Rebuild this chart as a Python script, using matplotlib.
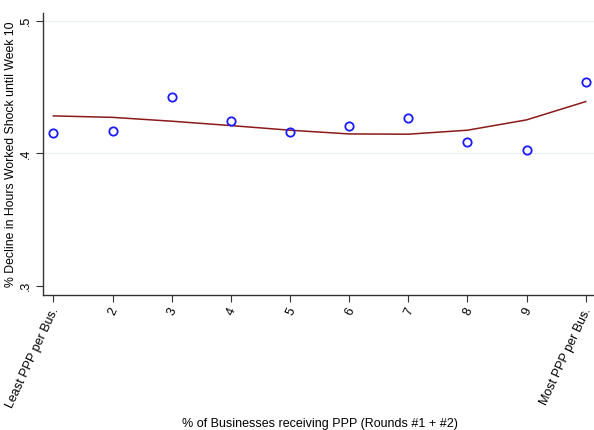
import matplotlib
matplotlib.use("Agg")
import matplotlib.pyplot as plt
import matplotlib.transforms as mtransforms

plt.rcParams['font.family'] = ['Liberation Sans', 'DejaVu Sans']

deciles = [1, 2, 3, 4, 5, 6, 7, 8, 9, 10]
decline = [0.4152, 0.4170, 0.4426, 0.4248, 0.4162, 0.4210, 0.4266, 0.4087, 0.4029, 0.4540]
fitted = [0.4283, 0.4272, 0.4243, 0.4210, 0.4175, 0.4147, 0.4145, 0.4175, 0.4253, 0.4391]
xtick_labels = ["Least PPP per Bus.", "2", "3", "4", "5", "6", "7", "8", "9", "Most PPP per Bus."]
yticks = [0.3, 0.4, 0.5]
ytick_labels = [".3", ".4", ".5"]

fig = plt.figure(figsize=(5.94, 4.30), dpi=100)
ax = fig.add_axes([0.0729, 0.314, 0.9271, 0.656])

for y in [0.4, 0.5]:
    ax.axhline(y, color='#eaf2f3', lw=1.0, zorder=0)

ax.plot(deciles, fitted, color='#8B1A1A', lw=1.1, zorder=2)
ax.plot(deciles, decline, linestyle='none', marker='o', markersize=6,
        markerfacecolor='none', markeredgecolor='#1a1aff', markeredgewidth=1.3, zorder=3)

ax.set_xlim(0.83, 10.14)
ax.set_ylim(0.2932, 0.506)
ax.set_xticks(deciles)
ax.set_xticklabels([])
base = mtransforms.blended_transform_factory(ax.transData, ax.transAxes)
offset = mtransforms.ScaledTranslation(-3 / 100, -11 / 100, fig.dpi_scale_trans)
for xv, lab in zip(deciles, xtick_labels):
    ax.text(xv, 0, lab, transform=base + offset, rotation=65, ha='right', va='top',
            rotation_mode='anchor', fontsize=9, clip_on=False)
ax.set_yticks(yticks)
ax.set_yticklabels(ytick_labels, rotation=90, va='center', fontsize=9)

for s in ['top', 'right']:
    ax.spines[s].set_visible(False)
for s in ['left', 'bottom']:
    ax.spines[s].set_color('#333333')
    ax.spines[s].set_linewidth(1.0)
ax.tick_params(axis='both', direction='out', length=5, width=0.8, color='#333333', pad=3)

ax.set_ylabel("% Decline in Hours Worked Shock until Week 10", fontsize=8.8, labelpad=2)
fig.text(0.539, 0.0, "% of Businesses receiving PPP (Rounds #1 + #2)", ha='center', va='bottom', fontsize=9)

fig.savefig("out.png", dpi=100, facecolor='white')
